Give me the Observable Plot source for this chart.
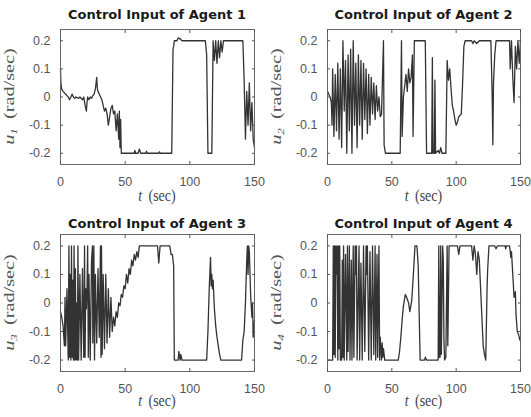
<!DOCTYPE html>
<html><head><meta charset="utf-8">
<script src="https://cdn.jsdelivr.net/npm/d3@7"></script>
<script src="https://cdn.jsdelivr.net/npm/@observablehq/plot@0.6"></script>
<style>
html,body{margin:0;padding:0;background:#fff;}
#root{position:relative;width:531px;height:417px;overflow:hidden;background:#fff;}
#root svg{position:absolute;}
</style></head><body><div id="root"></div>
<script>
const tTicks = [0, 50, 100, 150];
const uTicks = [-0.2, -0.1, 0, 0.1, 0.2];
const titles = ["Control Input of Agent 1", "Control Input of Agent 2", "Control Input of Agent 3", "Control Input of Agent 4"];
const subscripts = ["1", "2", "3", "4"];

const agent1 = [[0,0.1],[0.3,0.05],[0.8,0.03],[2,0.02],[4,0.01],[5,0.005],[6,0],[7,-0.01],[8,0],[9,0.01],[10,0],[11,-0.005],[12,0],[14,-0.005],[15,0],[17,-0.01],[18,0],[19,-0.03],[20,-0.05],[20.5,-0.02],[21,0],[22,-0.01],[23,0],[24,-0.005],[25,0.005],[26,0.01],[27,0.03],[28,0.07],[28.5,0.03],[29,0.02],[30,0.01],[31,0],[32,-0.01],[33,-0.03],[34,-0.05],[35,-0.04],[36,-0.06],[37,-0.1],[38,-0.07],[39,-0.04],[40,-0.03],[41,-0.06],[42,-0.05],[43,-0.12],[44,-0.06],[45,-0.15],[45.5,-0.05],[46,-0.18],[46.5,-0.08],[47,-0.2],[57,-0.2],[57.5,-0.19],[58,-0.2],[60,-0.2],[61,-0.185],[62,-0.2],[66,-0.2],[66.5,-0.193],[67,-0.2],[76,-0.2],[76.5,-0.195],[77,-0.2],[86,-0.2],[87,0.17],[87.5,0.18],[88,0.2],[90,0.2],[91,0.21],[93,0.205],[94,0.2],[112,0.2],[113,0.15],[114,-0.2],[117,-0.2],[118,0.2],[119,0.13],[120,0.2],[121,0.12],[122,0.2],[123,0.14],[124,0.2],[125,0.16],[126,0.2],[141,0.2],[142,0.06],[143,-0.15],[144,0.02],[145,-0.1],[146,0.05],[147,-0.12],[148,-0.02],[149,-0.15],[150,-0.18]];

const agent2 = [[0,0.02],[1,0.01],[2,0.0],[3,-0.02],[3.5,-0.1],[4,0.1],[5,-0.14],[6,0.08],[7,-0.12],[8,0.12],[9,-0.15],[10,0.1],[11,-0.18],[12,0.2],[13,-0.05],[14,0.13],[15,-0.2],[16,0.15],[17,-0.12],[18,0.17],[19,-0.2],[20,0.2],[21,-0.1],[22,0.12],[23,-0.18],[24,0.15],[25,-0.1],[26,0.13],[27,-0.15],[28,0.12],[29,-0.08],[30,0.1],[31,-0.13],[32,0.08],[33,-0.1],[34,0.07],[35,-0.06],[36,0.05],[37,-0.08],[38,0.04],[39,-0.05],[40,0.0],[41,-0.07],[42,-0.06],[43.5,0.2],[44,-0.17],[45,-0.2],[56.5,-0.2],[57.5,0.2],[58,-0.14],[59,0.0],[60,0.04],[61,0.08],[62,0.02],[63,0.1],[64,0.05],[65,0.07],[66,0.15],[66.5,-0.14],[67.5,0.2],[76,0.2],[77,-0.2],[81,-0.2],[81.5,0.14],[82,-0.2],[83,-0.2],[83.5,0.06],[84,-0.2],[86,-0.19],[87,-0.2],[88,-0.18],[89,-0.2],[92,-0.2],[93,0.13],[94,0.06],[95,0.1],[96,0.03],[97,-0.03],[98,-0.05],[99,-0.08],[100,-0.1],[101,-0.09],[102,-0.07],[104,-0.06],[105,0.05],[106,0.18],[107,0.2],[112,0.2],[113,0.19],[114,0.2],[116,0.19],[118,0.2],[127,0.2],[128,0.0],[128.5,-0.17],[129,0.05],[130,0.15],[131,0.2],[141.5,0.2],[142,0.1],[143,0.2],[144,0.07],[145,-0.02],[146,0.18],[147,0.1],[148,0.2],[149,0.12],[150,0.2]];

const agent3 = [[0,-0.03],[1,-0.05],[2,-0.08],[3,-0.15],[3.5,0.02],[4,-0.15],[5,0.05],[6,-0.2],[6.5,0.2],[7,-0.19],[7.5,0.1],[8,-0.2],[8.5,0.2],[9,-0.19],[9.5,0.08],[10,-0.2],[10.5,0.2],[11,-0.2],[11.5,0.12],[12,-0.2],[12.5,0.0],[13,-0.2],[13.5,0.2],[14,-0.2],[15,0.1],[16,-0.2],[17,0.12],[18,-0.19],[18.6,0.2],[19,-0.19],[19.5,0.05],[20,-0.02],[20.5,0.04],[21,0.2],[21.5,-0.19],[22,0.1],[23,-0.2],[24,0.15],[24.7,0.2],[25,-0.14],[25.8,0.2],[26.3,-0.2],[27,0.1],[28,-0.14],[29,0.12],[30,-0.12],[30.9,0.2],[31.3,-0.19],[31.7,0.2],[32.2,-0.18],[33,0.1],[34,-0.16],[35,0.1],[36,-0.14],[37,0.05],[38,-0.12],[39,0.02],[40,-0.1],[41,-0.05],[42,-0.08],[43,-0.03],[44,-0.05],[45,0.0],[46,-0.01],[47,0.03],[48,0.02],[49,0.06],[50,0.05],[51,0.1],[52,0.07],[53,0.12],[54,0.1],[55,0.15],[56,0.13],[57,0.17],[58,0.15],[59,0.18],[60,0.16],[61,0.2],[75,0.2],[76,0.14],[77,0.2],[84.5,0.2],[85.5,0.17],[86.5,0.17],[87.5,0.13],[88,-0.2],[91,-0.2],[91.5,-0.17],[92.5,-0.2],[93,-0.18],[94,-0.2],[113,-0.2],[114,-0.1],[115,0.05],[116,0.16],[116.5,0.06],[117,0.1],[117.5,0.05],[118,0.08],[119,-0.02],[120,-0.08],[121,-0.12],[122,-0.15],[123,-0.18],[124,-0.2],[140,-0.2],[141,-0.13],[142,-0.1],[143,0.0],[144,0.15],[144.5,0.2],[145,0.1],[145.5,0.2],[146,0.18],[147,0.03],[148,-0.05],[148.5,0.0],[149,-0.12],[150,-0.06]];

const agent4 = [[0,-0.2],[4,-0.2],[4.5,0.2],[5,-0.18],[5.5,0.2],[6,-0.19],[6.5,0.2],[7,0.1],[7.5,0.2],[8,-0.2],[8.5,0.2],[9,-0.16],[9.5,0.2],[10,-0.2],[11,-0.2],[11.5,0.15],[12,-0.19],[12.5,0.2],[13,-0.2],[14,0.17],[15,-0.2],[15.5,0.2],[16,-0.17],[17,0.2],[17.5,-0.2],[18.5,0.15],[19,-0.2],[20,0.2],[20.5,-0.19],[21.5,0.2],[22,0.1],[22.5,0.2],[23,-0.2],[24.5,0.2],[25,-0.2],[26,0.14],[27,-0.2],[28,0.2],[29,-0.17],[30,0.2],[30.5,0.1],[31,0.2],[32,-0.2],[33,0.18],[34,-0.2],[35,0.2],[36,-0.18],[37,0.2],[37.5,-0.2],[38.5,0.17],[39,-0.19],[40,0.2],[40.5,-0.2],[41,-0.12],[42,-0.2],[42.5,-0.14],[43,-0.19],[43.5,-0.16],[44.5,-0.2],[55,-0.2],[56,-0.17],[57,-0.12],[58,-0.06],[59,-0.01],[60.5,0.03],[61.5,0.02],[63,0.0],[64,-0.03],[65.5,0.01],[67,0.12],[68,0.2],[69.5,0.2],[70.5,0.13],[72,-0.2],[75.5,-0.2],[76,-0.19],[77,-0.2],[86,-0.2],[86.5,0.2],[87,-0.19],[87.5,-0.19],[88,0.2],[88.5,-0.18],[89.5,0.2],[90,0.15],[90.5,-0.13],[91,-0.2],[92,-0.19],[93,0.2],[93.5,-0.15],[94.5,0.2],[101,0.2],[102,0.17],[103,0.2],[112,0.2],[113,0.15],[114,0.2],[115,0.17],[116,0.1],[117,0.18],[118,0.15],[119,0.05],[120,-0.05],[121,-0.15],[122,-0.18],[123,-0.2],[124,0.05],[124.5,0.12],[125.5,0.2],[130,0.2],[131,0.19],[132,0.2],[138,0.2],[138.5,0.19],[139,0.2],[141.5,0.2],[142.5,0.16],[143,0.18],[144,0.1],[145,0.02],[146,0.04],[146.5,-0.04],[147.5,-0.1],[148.5,-0.11],[149.5,-0.13],[150,-0.12]];

const series = [agent1, agent2, agent3, agent4];
const layout = [
  {left: 0,   top: 0,   w: 265, h: 205, ml: 60, mr: 11, mt: 29, mb: 41, titleY: 18.5, xlabY: 201},
  {left: 265, top: 0,   w: 266, h: 205, ml: 62, mr: 11, mt: 29, mb: 41, titleY: 18.5, xlabY: 201},
  {left: 0,   top: 205, w: 265, h: 212, ml: 60, mr: 11, mt: 29, mb: 46, titleY: 23,   xlabY: 201},
  {left: 265, top: 205, w: 266, h: 212, ml: 62, mr: 11, mt: 29, mb: 46, titleY: 23,   xlabY: 201}
];

const root = document.getElementById("root");
const fmtU = d => d === 0 ? "0" : d.toFixed(1);

series.forEach((data, i) => {
  const L = layout[i];
  const fig = Plot.plot({
    width: L.w, height: L.h,
    marginLeft: L.ml, marginRight: L.mr, marginTop: L.mt, marginBottom: L.mb,
    x: {domain: [0, 150]},
    y: {domain: [-0.24, 0.24]},
    style: {fontFamily: "'Liberation Sans', Arial, sans-serif", fontSize: "12.5px", color: "#555", background: "transparent", overflow: "visible"},
    marks: [
      Plot.line(data, {x: d => d[0], y: d => d[1], stroke: "#333", strokeWidth: 1.3}),
      Plot.frame({stroke: "#666"}),
      Plot.axisX({ticks: tTicks, tickSize: -3, tickPadding: 16, tickFormat: d => String(d), label: null}),
      Plot.axisX({anchor: "top", ticks: tTicks, tickSize: -3, tickFormat: () => "", label: null}),
      Plot.axisY({ticks: uTicks, tickSize: -3, tickPadding: 13, tickFormat: fmtU, label: null}),
      Plot.axisY({anchor: "right", ticks: uTicks, tickSize: -3, tickFormat: () => "", label: null})
    ]
  });
  fig.style.left = L.left + "px";
  fig.style.top = L.top + "px";
  const svg = d3.select(fig);
  const cx = L.ml + (L.w - L.ml - L.mr) / 2;
  const cy = L.mt + (L.h - L.mt - L.mb) / 2;
  svg.append("text")
    .attr("x", cx).attr("y", L.titleY)
    .attr("text-anchor", "middle")
    .attr("font-family", "'DejaVu Sans', 'Liberation Sans', Arial, sans-serif")
    .attr("font-weight", "bold").attr("font-size", 13)
    .attr("fill", "#1a1a1a")
    .text(titles[i]);
  const xl = svg.append("text")
    .attr("transform", `translate(${cx},${L.xlabY}) scale(1,1.2)`)
    .attr("text-anchor", "middle")
    .attr("font-family", "'Liberation Serif', 'Times New Roman', serif")
    .attr("font-size", 14).attr("fill", "#444");
  xl.append("tspan").attr("font-style", "italic").text("t");
  xl.append("tspan").text("\u2009 (sec)");
  const yl = svg.append("text")
    .attr("transform", `translate(${L.ml - 46},${cy}) rotate(-90) scale(1.45,1)`)
    .attr("text-anchor", "middle")
    .attr("font-family", "'Liberation Serif', 'Times New Roman', serif")
    .attr("font-size", 14).attr("fill", "#555");
  yl.append("tspan").attr("font-style", "italic").text("u");
  yl.append("tspan").attr("font-size", 9).attr("font-style", "italic").attr("dy", 3).text(subscripts[i]);
  yl.append("tspan").attr("dy", -3).text("\u2009 (rad/sec)");
  root.appendChild(fig);
});
</script>
</body></html>
